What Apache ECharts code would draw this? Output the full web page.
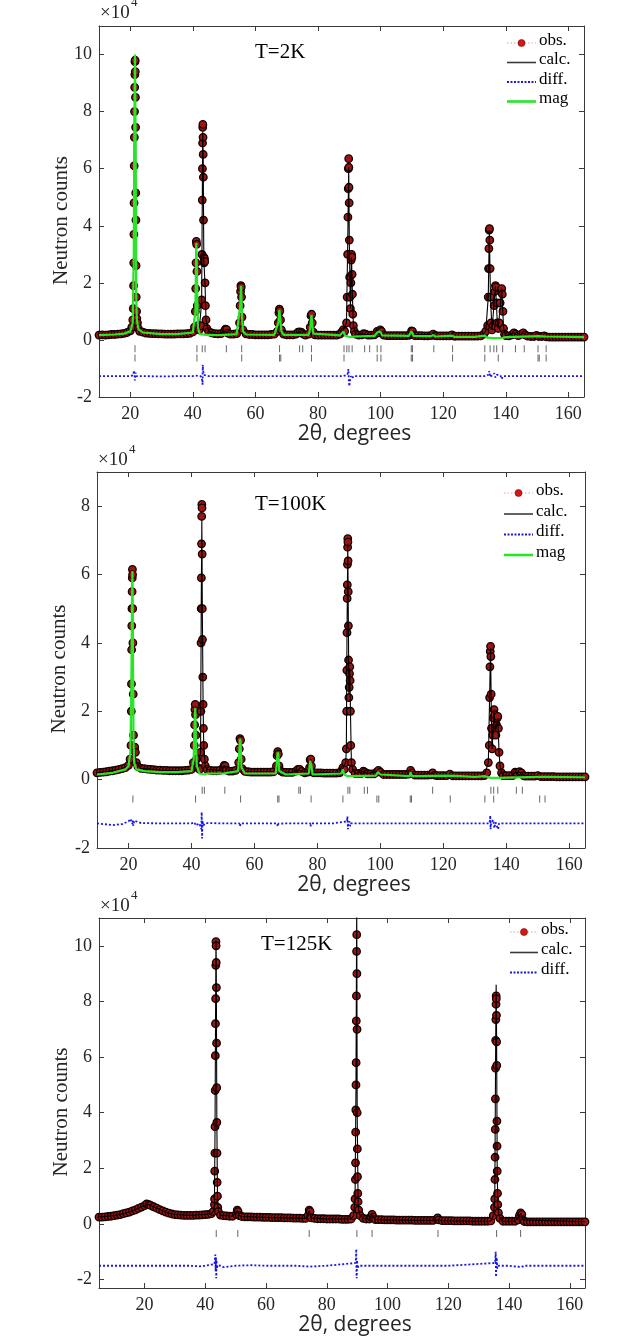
<!DOCTYPE html>
<html><head><meta charset="utf-8">
<script src="https://cdn.jsdelivr.net/npm/echarts@6/dist/echarts.min.js"></script>
<style>html,body{margin:0;padding:0;background:#fff}#c{width:640px;height:1337px}</style>
</head><body><div id="c"></div>
<script>
// ---------------- Panel labels / ticks ----------------
const panelTitles = ['T=2K', 'T=100K', 'T=125K'];
const xTickVals = [20, 40, 60, 80, 100, 120, 140, 160];
const yTickVals1 = [-2, 0, 2, 4, 6, 8, 10];
const yTickVals2 = [-2, 0, 2, 4, 6, 8];
const yTickVals3 = [-2, 0, 2, 4, 6, 8, 10];
const legendNames = ['obs.', 'calc.', 'diff.', 'mag'];

// ---------------- Panel 1 : T=2K (x10^4 counts) ----------------
const p1Obs = [[10,0.17],[11,0.18],[12,0.17],[13,0.18],[14,0.19],[15,0.19],[16,0.2],[17,0.21],[18,0.23],[19,0.26],[20,0.32],[20.5,0.45],[20.8,0.7],[20.95,1.1],[21.05,1.9],[21.1,2.7],[21.15,3.7],[21.2,4.8],[21.25,6.1],[21.3,7.1],[21.35,8.0],[21.4,8.85],[21.45,9.3],[21.5,9.75],[21.55,9.8],[21.6,9.4],[21.65,8.5],[21.7,7.45],[21.75,5.15],[21.8,4.2],[21.85,2.6],[21.9,1.5],[22.0,1.0],[22.1,0.75],[22.3,0.6],[22.6,0.4],[23,0.3],
[24,0.27],[25,0.24],[26,0.23],[27,0.22],[28,0.22],[29,0.21],[30,0.21],[31,0.2],[32,0.2],[33,0.2],[34,0.2],[35,0.21],[36,0.21],[37,0.21],[38,0.22],[39,0.23],[40,0.28],[40.5,0.45],
[40.8,1.0],[40.9,1.8],[41.0,2.7],[41.1,3.45],[41.2,3.35],[41.3,2.4],[41.4,1.2],[41.6,0.5],[42.0,0.35],[42.5,0.5],
[42.8,1.4],[42.9,3.0],[43.0,4.9],[43.05,6.0],[43.1,6.9],[43.15,7.45],[43.2,7.55],[43.25,7.1],[43.3,6.5],[43.35,5.7],[43.4,4.2],[43.5,2.9],[43.6,2.7],[43.7,2.85],[43.8,2.75],[43.9,2.0],[44.0,1.2],[44.2,0.7],[44.5,0.4],[45,0.3],
[46,0.25],[47,0.22],[48,0.21],[49,0.22],[50,0.3],[50.4,0.38],[50.8,0.36],[51.2,0.24],[52,0.2],[53,0.2],[54,0.22],[54.9,0.6],[55.1,1.2],[55.25,1.7],[55.35,1.9],[55.45,1.85],[55.55,1.5],[55.7,0.8],[56,0.35],[57,0.21],[58,0.19],[59,0.19],[60,0.18],[61,0.18],[62,0.18],[63,0.18],[64,0.18],[65,0.19],[66,0.2],
[67,0.3],[67.3,0.6],[67.5,0.95],[67.65,1.08],[67.8,1.02],[68.0,0.7],[68.3,0.35],[69,0.2],[70,0.18],[71,0.18],[72,0.18],[73,0.2],[73.6,0.27],[74.2,0.28],[74.8,0.26],[75.3,0.2],[76,0.17],[77,0.2],[77.5,0.45],[77.75,0.85],[77.95,0.9],[78.15,0.6],[78.5,0.27],[79,0.18],[80,0.17],[81,0.17],[82,0.17],[83,0.17],[84,0.17],[85,0.17],[86,0.17],[87,0.2],[87.6,0.28],[88.1,0.36],[88.5,0.3],
[89.1,0.6],[89.3,1.5],[89.45,3.0],[89.55,4.3],[89.65,5.3],[89.7,6.0],[89.8,6.35],[89.85,6.05],[89.9,5.35],[89.95,4.8],[90.0,3.5],[90.1,2.2],[90.2,1.5],[90.35,1.1],[90.5,2.0],[90.6,2.8],[90.7,3.0],[90.8,2.9],[90.9,2.3],[91.0,1.6],[91.1,0.9],[91.3,0.5],[91.6,0.3],[92,0.2],[93,0.17],[94,0.18],[94.6,0.22],[95.2,0.2],[96,0.17],[97,0.17],[98,0.18],[98.9,0.3],[99.3,0.25],[99.9,0.35],[100.3,0.3],[101,0.17],
[102,0.15],[103,0.15],[104,0.15],[105,0.15],[106,0.15],[107,0.15],[108,0.15],[109,0.16],[109.5,0.2],[109.9,0.32],[110.2,0.3],[110.6,0.18],[111,0.15],[112,0.15],[113,0.15],[114,0.14],[115,0.14],[116,0.15],[116.8,0.2],[117.5,0.15],[118,0.14],[119,0.14],[120,0.14],[121,0.14],[122,0.14],[122.8,0.18],[123.5,0.13],[124,0.13],[125,0.13],[126,0.13],[127,0.13],[128,0.13],[129,0.13],[130,0.13],[131,0.13],[132,0.14],[133,0.2],[133.6,0.3],
[134.2,0.5],[134.4,1.5],[134.5,2.5],[134.6,3.2],[134.7,3.85],[134.8,3.9],[134.9,3.5],[135.0,2.5],[135.1,1.5],[135.3,0.6],[135.6,0.35],[136.0,0.5],[136.3,1.2],[136.5,1.7],[136.7,1.9],[136.9,1.85],[137.1,1.3],[137.3,0.6],[137.6,0.4],[137.9,0.6],[138.2,1.3],[138.5,1.75],[138.7,1.8],[138.9,1.6],[139.1,1.0],[139.3,0.4],[139.6,0.2],[140,0.15],[141,0.14],[142,0.18],[142.6,0.25],[143.2,0.2],[144,0.15],[145,0.2],[145.6,0.25],[146.2,0.18],[147,0.13],[148,0.12],[149,0.12],[149.8,0.16],[150.5,0.12],[151.5,0.12],[152.3,0.14],[153,0.11],
[154,0.1],[155,0.1],[156,0.1],[157,0.1],[158,0.1],[159,0.1],[160,0.1],[161,0.1],[162,0.1],[163,0.1],[164,0.1],[165,0.1]];
const p1Calc = [[10,0.17],[15,0.19],[18,0.23],[20,0.32],[20.8,0.7],[21.1,3.0],[21.3,7.5],[21.5,9.9],[21.7,7.0],[21.9,1.6],[22.1,0.75],[22.6,0.4],[24,0.27],[30,0.21],[35,0.21],[40,0.28],[40.8,1.0],[41.0,2.7],[41.1,3.4],[41.3,2.3],[41.6,0.5],[42.0,0.35],[42.8,1.3],[43.0,4.8],[43.15,7.3],[43.3,6.4],[43.5,2.8],[43.7,2.8],[43.9,1.9],[44.2,0.7],[45,0.3],[48,0.21],[50,0.3],[50.6,0.37],[51.2,0.24],[54,0.22],[55.1,1.2],[55.4,1.85],[55.7,0.8],[56,0.35],[57,0.21],[66,0.2],[67.3,0.6],[67.65,1.05],[68.0,0.7],[68.3,0.35],[69,0.2],[73,0.2],[74,0.27],[75.3,0.2],[77,0.2],[77.5,0.45],[77.9,0.88],[78.2,0.55],[78.5,0.27],[79,0.18],[87,0.2],[88.1,0.34],[88.5,0.3],[89.1,0.6],[89.5,3.5],[89.8,6.05],[90.0,3.4],[90.35,1.1],[90.7,2.9],[91.0,1.5],[91.3,0.5],[92,0.2],[94.6,0.21],[96,0.17],[98.9,0.28],[99.9,0.33],[101,0.17],[109,0.16],[109.9,0.3],[110.6,0.18],[116.8,0.19],[117.5,0.15],[122.8,0.17],[123.5,0.13],[132,0.14],[133.6,0.3],[134.4,1.5],[134.75,3.85],[135.1,1.5],[135.6,0.35],[136.7,1.9],[137.3,0.6],[137.6,0.4],[138.7,1.8],[139.3,0.4],[140,0.15],[142.6,0.24],[144,0.15],[145.6,0.24],[147,0.13],[149.8,0.15],[151.5,0.12],[152.3,0.13],[154,0.1],[165,0.1]];
const p1Mag = [[10,0.17],[15,0.19],[18,0.22],[20,0.3],[20.8,0.6],[21.1,2.8],[21.3,7.5],[21.5,10.0],[21.7,7.0],[21.9,1.5],[22.1,0.7],[22.6,0.38],[24,0.26],[30,0.2],[35,0.2],[40,0.26],[40.8,1.0],[41.0,2.7],[41.1,3.4],[41.3,2.3],[41.6,0.45],[42.2,0.2],[45,0.17],[50,0.18],[54,0.2],[55.1,1.15],[55.4,1.9],[55.7,0.8],[56,0.3],[57,0.19],[66,0.18],[67.3,0.6],[67.65,1.05],[68.0,0.65],[68.3,0.3],[69,0.18],[77,0.18],[77.5,0.4],[77.9,0.88],[78.2,0.5],[78.5,0.22],[79,0.16],[87,0.16],[88.1,0.3],[88.6,0.15],[90,0.1],[92,0.12],[98,0.14],[98.9,0.26],[99.4,0.2],[99.9,0.3],[100.5,0.16],[109,0.14],[109.9,0.3],[110.6,0.14],[116,0.13],[116.8,0.17],[117.5,0.12],[122.8,0.15],[123.5,0.11],[130,0.11],[133.3,0.15],[134,0.08],[136,0.06],[139,0.07],[140,0.1],[150.4,0.13],[151,0.1],[152.9,0.12],[153.5,0.1],[165,0.1]];
const p1Diff = [[10,-1.27],[15,-1.27],[20,-1.27],[20.9,-1.24],[21.2,-1.07],[21.35,-1.19],[21.45,-1.42],[21.55,-1.32],[21.7,-1.15],[21.9,-1.27],[25,-1.27],[30,-1.28],[35,-1.27],[40,-1.27],[40.9,-1.25],[41.05,-1.32],[41.2,-1.24],[41.5,-1.29],[42.5,-1.27],[42.9,-1.3],[43.0,-1.42],[43.1,-1.57],[43.15,-0.87],[43.2,-0.82],[43.3,-1.07],[43.5,-1.22],[43.8,-1.17],[44.2,-1.25],[45,-1.27],[50,-1.27],[55.2,-1.27],[55.4,-1.21],[55.6,-1.33],[55.8,-1.27],[60,-1.27],[67.6,-1.27],[67.8,-1.31],[68,-1.27],[77.8,-1.27],[77.95,-1.23],[78.1,-1.29],[80,-1.27],[88,-1.27],[89.4,-1.22],[89.6,-1.17],[89.7,-1.02],[89.8,-1.32],[89.9,-1.52],[90.0,-1.62],[90.2,-1.42],[90.5,-1.27],[90.7,-1.22],[90.9,-1.35],[91.3,-1.27],[100,-1.27],[110,-1.27],[120,-1.27],[133,-1.27],[134.5,-1.22],[134.7,-1.09],[134.85,-1.17],[135.0,-1.3],[135.3,-1.25],[136.3,-1.17],[136.7,-1.32],[137.2,-1.22],[137.5,-1.27],[138.3,-1.25],[138.7,-1.37],[139.1,-1.27],[140,-1.27],[150,-1.27],[165,-1.27]];
const p1BraggA = [21.5,41.3,43.0,43.9,50.7,55.6,67.7,74.1,75.1,77.9,88.3,89.2,89.9,90.9,94.9,96.5,98.9,100.1,109.8,110.2,117.0,123.0,133.3,135.0,136.2,137.1,139.0,143.1,145.9,150.3,152.9];
const p1BraggB = [21.5,41.3,55.6,67.7,68.1,77.9,88.3,98.9,100.1,109.8,110.2,123.0,133.3,137.6,150.3,150.7,152.9];

// ---------------- Panel 2 : T=100K ----------------
const p2Obs = [[10,0.2],[11,0.21],[12,0.22],[13,0.23],[14,0.25],[15,0.26],[16,0.28],[17,0.3],[18,0.32],[19,0.35],[20,0.42],[20.5,0.6],[20.8,1.0],[20.9,2.0],[20.95,2.8],[21.0,3.8],[21.05,4.5],[21.1,5.0],[21.15,5.5],[21.2,5.9],[21.25,6.15],[21.3,6.0],[21.35,5.0],[21.4,4.0],[21.5,2.5],[21.6,1.3],[21.8,0.9],[22.0,0.95],[22.2,0.8],[22.5,0.5],[23,0.38],[24,0.33],[25,0.32],[26,0.31],[27,0.3],[28,0.29],[29,0.28],[30,0.28],[31,0.27],[32,0.27],[33,0.26],[34,0.26],[35,0.26],[36,0.26],[37,0.26],[38,0.27],[39,0.28],[40,0.3],[40.6,0.5],
[40.9,1.0],[41.0,1.6],[41.1,2.05],[41.2,2.2],[41.3,1.9],[41.4,1.3],[41.6,0.6],[42,0.35],[42.6,0.3],[42.9,0.8],[43.0,2.0],[43.05,4.0],[43.1,5.0],[43.15,5.9],[43.2,6.9],[43.25,7.7],[43.3,8.05],[43.35,7.95],[43.4,6.6],[43.45,5.0],[43.5,4.1],[43.6,3.0],[43.7,2.2],[43.8,1.5],[43.9,1.0],[44.1,0.6],[44.4,0.4],[45,0.3],[46,0.27],[47,0.26],[48,0.26],[49,0.27],[50.1,0.35],[50.4,0.42],[50.7,0.4],[51.1,0.28],[52,0.25],[53,0.25],[54,0.27],
[55.0,0.5],[55.2,0.9],[55.4,1.2],[55.6,1.15],[55.8,0.6],[56.1,0.32],[57,0.24],[58,0.23],[59,0.22],[60,0.22],[61,0.22],[62,0.22],[63,0.22],[64,0.22],[65,0.22],[66,0.23],[67.0,0.4],[67.2,0.7],[67.4,0.82],[67.6,0.75],[67.8,0.4],[68.2,0.26],[69,0.22],[70,0.21],[71,0.21],[72,0.21],[73.2,0.25],[73.8,0.3],[74.4,0.3],[75,0.24],[76,0.2],[77,0.22],[77.5,0.35],[77.7,0.58],[77.9,0.6],[78.1,0.4],[78.5,0.22],[79,0.2],[80,0.2],[81,0.2],[82,0.19],[83,0.19],[84,0.19],[85,0.19],[86,0.19],[87,0.2],[87.6,0.25],[88.1,0.35],[88.5,0.3],
[89.0,0.5],[89.2,0.9],[89.3,2.0],[89.35,3.2],[89.4,4.3],[89.45,5.3],[89.5,5.7],[89.55,6.3],[89.6,6.8],[89.65,7.05],[89.7,6.95],[89.75,6.4],[89.8,5.5],[89.85,4.5],[89.9,3.5],[90.0,2.4],[90.1,2.7],[90.2,3.1],[90.3,3.3],[90.4,2.9],[90.5,2.0],[90.6,1.0],[90.8,0.5],[91.2,0.3],[92,0.18],[93,0.18],[94,0.18],[94.6,0.25],[95.1,0.22],[95.8,0.18],[96,0.17],[97,0.17],[98,0.17],[98.8,0.22],[99.4,0.27],[100,0.22],
[101,0.15],[102,0.15],[103,0.15],[104,0.15],[105,0.15],[106,0.15],[107,0.15],[108,0.15],[109,0.16],[109.6,0.27],[110,0.2],[111,0.13],[112,0.13],[113,0.13],[114,0.13],[115,0.13],[116,0.14],[116.6,0.2],[117.3,0.13],[118,0.12],[119,0.12],[120,0.12],[121,0.12],[122.1,0.16],[123,0.11],[124,0.11],[125,0.11],[126,0.11],[127,0.11],[128,0.11],[129,0.11],[130,0.11],[131,0.11],[132,0.11],[133,0.12],[133.8,0.2],[134.3,0.5],
[134.6,1.0],[134.7,2.4],[134.8,3.3],[134.9,3.75],[135.0,3.9],[135.1,3.6],[135.2,2.5],[135.3,1.5],[135.5,0.9],[135.7,1.3],[135.9,1.8],[136.1,2.05],[136.3,1.9],[136.5,1.5],[136.7,1.3],[136.9,1.6],[137.1,1.8],[137.3,1.85],[137.5,1.5],[137.7,0.8],[138.0,0.4],[138.5,0.2],[139,0.12],[140,0.12],[141,0.12],[142,0.12],[142.8,0.22],[143.3,0.2],[144.2,0.23],[144.8,0.2],[145.5,0.12],[146,0.1],[147,0.1],[148,0.1],[149,0.1],[150,0.12],[151,0.09],[152,0.09],[153,0.09],[154,0.09],[155,0.09],[156,0.08],[157,0.08],[158,0.08],[159,0.08],[160,0.08],[161,0.08],[162,0.08],[163,0.08],[164,0.08],[165,0.08]];
const p2Calc = [[10,0.2],[14,0.25],[18,0.32],[20,0.42],[20.5,0.6],[20.8,1.0],[21.0,3.7],[21.25,6.1],[21.4,4.0],[21.6,1.3],[21.8,0.9],[22.0,0.95],[22.5,0.5],[24,0.33],[30,0.28],[35,0.26],[40,0.3],[40.6,0.5],[41.0,1.6],[41.2,2.15],[41.4,1.3],[41.6,0.6],[42,0.35],[42.6,0.3],[42.9,0.8],[43.1,5.0],[43.3,7.6],[43.45,5.0],[43.7,2.2],[43.9,1.0],[44.4,0.4],[45,0.3],[49,0.27],[50.4,0.41],[51.1,0.28],[54,0.27],[55.0,0.5],[55.4,1.2],[55.8,0.6],[56.1,0.32],[57,0.24],[66,0.23],[67.0,0.4],[67.4,0.8],[67.8,0.4],[68.2,0.26],[69,0.22],[72,0.21],[73.8,0.29],[74.4,0.29],[75,0.24],[77,0.22],[77.5,0.35],[77.9,0.6],[78.1,0.4],[78.5,0.22],[79,0.2],[87,0.2],[88.1,0.34],[88.5,0.3],[89.0,0.5],[89.2,0.9],[89.4,4.2],[89.65,6.9],[89.85,4.5],[90.0,2.5],[90.3,3.25],[90.5,2.0],[90.8,0.5],[91.2,0.3],[92,0.18],[94.6,0.24],[95.8,0.18],[98.8,0.22],[99.4,0.26],[100,0.22],[101,0.15],[109,0.16],[109.6,0.26],[110,0.2],[111,0.13],[116.6,0.19],[117.3,0.13],[122.1,0.15],[123,0.11],[133,0.12],[134.3,0.5],[134.7,2.4],[135.0,3.85],[135.3,1.5],[135.5,0.9],[136.1,2.0],[136.6,1.4],[137.3,1.8],[137.7,0.8],[138.0,0.4],[138.5,0.2],[139,0.12],[142,0.12],[142.8,0.21],[143.3,0.2],[144.2,0.22],[145.5,0.12],[146,0.1],[150,0.11],[151,0.09],[165,0.08]];
const p2Mag = [[10,0.15],[15,0.2],[19,0.3],[20,0.4],[20.6,0.8],[20.9,2.5],[21.1,5.0],[21.25,6.1],[21.4,4.0],[21.6,1.2],[21.8,0.5],[22.5,0.3],[25,0.25],[30,0.22],[35,0.22],[40,0.25],[40.7,0.6],[41.0,1.6],[41.2,2.1],[41.4,1.3],[41.7,0.4],[42.5,0.18],[44,0.15],[45,0.18],[50,0.18],[54.8,0.25],[55.2,0.8],[55.4,1.2],[55.6,1.1],[55.9,0.35],[57,0.18],[66.8,0.18],[67.2,0.6],[67.4,0.8],[67.6,0.72],[67.9,0.25],[70,0.15],[77.3,0.18],[77.7,0.55],[77.9,0.6],[78.1,0.4],[78.5,0.15],[87.6,0.18],[88.1,0.3],[88.5,0.15],[89.6,0.1],[91,0.1],[98.6,0.12],[99.2,0.22],[99.6,0.25],[100.1,0.15],[109.3,0.1],[109.6,0.22],[110,0.1],[122,0.12],[130,0.08],[133.2,0.1],[135,0.05],[138,0.05],[150,0.08],[152,0.08],[165,0.07]];
const p2Diff = [[10,-1.28],[12,-1.3],[15,-1.33],[18,-1.3],[20,-1.22],[20.7,-1.15],[20.9,-1.2],[21.05,-1.1],[21.2,-1.3],[21.35,-1.2],[21.5,-1.35],[21.8,-1.2],[22.3,-1.25],[24,-1.27],[30,-1.28],[40,-1.28],[41.0,-1.25],[41.2,-1.22],[41.35,-1.34],[41.6,-1.3],[42.5,-1.28],[43.0,-1.3],[43.15,-1.45],[43.25,-0.95],[43.3,-1.0],[43.35,-1.6],[43.4,-1.72],[43.5,-1.2],[43.7,-1.35],[44.5,-1.27],[50,-1.28],[55.2,-1.28],[55.4,-1.36],[55.6,-1.28],[60,-1.28],[67.2,-1.28],[67.4,-1.37],[67.6,-1.29],[70,-1.28],[77.7,-1.28],[77.85,-1.37],[78.0,-1.28],[85,-1.28],[89.4,-1.22],[89.55,-1.08],[89.6,-1.12],[89.7,-1.45],[89.8,-1.3],[90.2,-1.22],[90.4,-1.36],[90.7,-1.28],[100,-1.28],[120,-1.28],[134.5,-1.28],[134.8,-1.2],[134.9,-1.05],[135.0,-1.45],[135.2,-1.25],[135.9,-1.18],[136.2,-1.42],[136.6,-1.25],[137.1,-1.3],[137.4,-1.45],[137.7,-1.28],[140,-1.28],[165,-1.28]];
const p2BraggA = [43.4,44.1,50.6,74.1,74.6,89.7,90.3,94.9,95.9,116.6,135.1,136.0,137.3,143.2,145.1];
const p2BraggB = [21.4,41.3,55.6,67.4,67.8,78.0,88.1,98.9,99.5,109.5,109.9,122.2,133.2,136.0,150.6,152.3];

// ---------------- Panel 3 : T=125K ----------------
const p3Obs = [[5,0.25],[6,0.25],[7,0.26],[8,0.27],[9,0.28],[10,0.3],[11,0.32],[12,0.34],[13,0.37],[14,0.4],[15,0.43],[16,0.47],[17,0.51],[18,0.56],[19,0.61],[20,0.66],[20.7,0.72],[21.5,0.7],[22,0.67],[23,0.62],[24,0.57],[25,0.52],[26,0.47],[27,0.43],[28,0.39],[29,0.36],[30,0.34],[31,0.33],[32,0.32],[33,0.31],[34,0.31],[35,0.31],[36,0.31],[37,0.32],[38,0.32],[39,0.33],[40,0.34],[41,0.35],[42,0.37],[42.6,0.45],
[43.0,0.7],[43.05,0.9],[43.1,1.9],[43.15,2.55],[43.2,3.5],[43.25,4.8],[43.3,6.05],[43.35,7.2],[43.4,8.1],[43.45,9.3],[43.5,10.15],[43.55,10.0],[43.6,9.4],[43.65,8.5],[43.7,6.5],[43.75,4.9],[43.8,3.65],[43.85,2.55],[43.9,1.5],[44.0,1.0],[44.1,0.6],[44.3,0.45],[45,0.32],[46,0.3],[47,0.29],[48,0.28],[49,0.28],[50.2,0.35],[50.5,0.5],[50.8,0.45],[51.2,0.3],[52,0.27],[53,0.26],[54,0.26],[55,0.26],[56,0.25],[57,0.25],[58,0.25],[59,0.24],[60,0.24],[61,0.24],[62,0.23],[63,0.23],[64,0.23],[65,0.23],[66,0.22],[67,0.22],[68,0.22],[69,0.21],[70,0.21],[71,0.21],[72,0.2],[73,0.2],[73.8,0.3],[74.2,0.5],[74.5,0.45],[74.9,0.22],
[76,0.2],[77,0.19],[78,0.19],[79,0.19],[80,0.18],[81,0.18],[82,0.18],[83,0.18],[84,0.18],[85,0.17],[86,0.17],[87,0.17],[88,0.18],[88.8,0.3],[89.2,0.6],[89.3,0.9],[89.4,1.6],[89.45,2.2],[89.5,3.3],[89.55,4.1],[89.6,5.0],[89.65,5.8],[89.7,7.3],[89.75,8.2],[89.8,9.8],[89.85,10.4],[89.9,9.0],[89.95,7.0],[90.0,4.0],[90.05,2.7],[90.1,1.7],[90.2,1.1],[90.3,0.8],[90.5,0.5],[91,0.3],[92,0.2],[93,0.18],[94,0.18],[94.5,0.25],[94.9,0.35],[95.3,0.25],
[96,0.16],[97,0.16],[98,0.16],[99,0.15],[100,0.15],[101,0.15],[102,0.15],[103,0.14],[104,0.14],[105,0.14],[106,0.14],[107,0.14],[108,0.14],[109,0.13],[110,0.13],[111,0.13],[112,0.13],[113,0.13],[114,0.13],[115,0.13],[116.2,0.18],[116.5,0.22],[116.9,0.15],[118,0.12],[119,0.12],[120,0.12],[121,0.12],[122,0.11],[123,0.11],[124,0.11],[125,0.11],[126,0.11],[127,0.11],[128,0.1],[129,0.1],[130,0.1],[131,0.1],[132,0.1],[133,0.1],[134,0.11],[134.8,0.3],
[135.2,0.6],[135.3,0.9],[135.35,1.6],[135.4,2.4],[135.45,3.4],[135.5,4.5],[135.55,5.6],[135.6,6.6],[135.65,7.35],[135.7,7.9],[135.75,8.2],[135.8,8.1],[135.85,7.5],[135.9,6.55],[135.95,5.7],[136.0,3.7],[136.05,2.8],[136.1,1.9],[136.2,1.1],[136.3,0.7],[136.5,0.4],[137,0.2],[138,0.1],[139,0.1],[140,0.1],[141,0.1],[142,0.1],[143,0.15],[143.4,0.3],[143.8,0.4],[144.2,0.35],[144.6,0.15],[145,0.09],
[146,0.08],[147,0.08],[148,0.08],[149,0.08],[150,0.08],[151,0.08],[152,0.08],[153,0.08],[154,0.08],[155,0.08],[156,0.08],[157,0.08],[158,0.08],[159,0.08],[160,0.08],[161,0.08],[162,0.08],[163,0.08],[164,0.08],[165,0.08]];
const p3Calc = [[5,0.25],[10,0.3],[15,0.43],[20,0.66],[20.7,0.72],[22,0.67],[25,0.52],[28,0.39],[30,0.34],[35,0.31],[40,0.34],[42,0.37],[42.6,0.45],[43.0,0.7],[43.2,3.4],[43.5,10.2],[43.6,9.5],[43.8,3.6],[44.0,1.0],[44.3,0.45],[45,0.32],[49,0.28],[50.5,0.48],[51.2,0.3],[52,0.27],[60,0.24],[70,0.21],[73,0.2],[74.2,0.48],[74.9,0.22],[80,0.18],[88,0.18],[88.8,0.3],[89.3,0.9],[89.6,5.0],[89.85,11.6],[90.0,4.0],[90.3,0.8],[90.5,0.5],[91,0.3],[92,0.2],[94,0.18],[94.9,0.33],[95.3,0.25],[96,0.16],[100,0.15],[110,0.13],[116,0.14],[116.5,0.21],[116.9,0.15],[118,0.12],[130,0.1],[134,0.11],[134.8,0.3],[135.3,0.9],[135.6,6.6],[135.75,8.6],[135.9,6.6],[136.1,1.9],[136.3,0.7],[136.5,0.4],[137,0.2],[138,0.1],[142,0.1],[143.4,0.3],[143.8,0.39],[144.2,0.35],[144.6,0.15],[145,0.09],[165,0.08]];
const p3Diff = [[5,-1.5],[20,-1.5],[30,-1.5],[35,-1.5],[38,-1.52],[40,-1.5],[42,-1.46],[43.0,-1.45],[43.3,-1.1],[43.4,-1.7],[43.5,-1.2],[43.6,-1.95],[43.7,-1.3],[43.8,-1.6],[44,-1.48],[45,-1.5],[46,-1.55],[48,-1.53],[50,-1.5],[55,-1.48],[60,-1.5],[70,-1.5],[74.2,-1.53],[80,-1.5],[89.5,-1.4],[89.7,-0.9],[89.75,-1.8],[89.85,-1.95],[89.95,-1.3],[90.1,-1.6],[90.4,-1.5],[100,-1.5],[120,-1.5],[135.4,-1.4],[135.6,-1.0],[135.7,-1.9],[135.8,-1.95],[135.9,-1.2],[136.1,-1.6],[136.5,-1.5],[140,-1.5],[144,-1.55],[145,-1.5],[165,-1.5]];
const p3BraggA = [43.6,50.7,74.2,89.9,94.9,116.6,135.9,143.8];

// ---------------- Layout / styles ----------------
const SERIF = 'Liberation Serif';
const SANS = 'Open Sans';
const grids = [
  {left: 99, top: 26, width: 485, height: 371},
  {left: 97, top: 472, width: 488, height: 376},
  {left: 99, top: 918, width: 486, height: 372}
];
const xRanges = [[10, 165], [10, 165], [5, 165]];
const yRanges = [[-2, 11], [-2, 9], [-2.3, 11]];
const yTicks = [yTickVals1, yTickVals2, yTickVals3];
const panels = [
  {obs: p1Obs, calc: p1Calc, diff: p1Diff, mag: p1Mag, bragg: [p1BraggA, p1BraggB], rowY: [-0.31, -0.63]},
  {obs: p2Obs, calc: p2Calc, diff: p2Diff, mag: p2Mag, bragg: [p2BraggA, p2BraggB], rowY: [-0.31, -0.57]},
  {obs: p3Obs, calc: p3Calc, diff: p3Diff, mag: null, bragg: [p3BraggA], rowY: [-0.34]}
];
const AX = '#3a3a3a';
const C_OBS = '#9c1414', C_OBS_EDGE = '#120000', C_CALC = '#000000', C_DIFF = '#1515ee', C_MAG = '#26e626';

const xAxes = [], yAxes = [], series = [];
grids.forEach((g, i) => {
  const tickStyle = {show: true, inside: true, length: 5, lineStyle: {color: AX, width: 1}};
  xAxes.push({
    type: 'value', gridIndex: i, min: xRanges[i][0], max: xRanges[i][1], position: 'bottom',
    axisLine: {show: true, onZero: false, lineStyle: {color: AX, width: 1}},
    axisTick: Object.assign({customValues: xTickVals}, tickStyle),
    axisLabel: {customValues: xTickVals, fontFamily: SERIF, fontSize: 18, color: '#262626', margin: 8},
    splitLine: {show: false},
    name: '2θ, degrees', nameLocation: 'middle', nameGap: 27,
    nameTextStyle: {fontFamily: SANS, fontSize: 21, color: '#262626', padding: [0, 0, 0, 26]}
  });
  xAxes.push({
    type: 'value', gridIndex: i, min: xRanges[i][0], max: xRanges[i][1], position: 'top',
    axisLine: {show: true, onZero: false, lineStyle: {color: AX, width: 1}},
    axisTick: Object.assign({customValues: xTickVals}, tickStyle),
    axisLabel: {show: false}, splitLine: {show: false}
  });
  yAxes.push({
    type: 'value', gridIndex: i, min: yRanges[i][0], max: yRanges[i][1], position: 'left',
    axisLine: {show: true, onZero: false, lineStyle: {color: AX, width: 1}},
    axisTick: Object.assign({customValues: yTicks[i]}, tickStyle),
    axisLabel: {customValues: yTicks[i], fontFamily: SERIF, fontSize: 18, color: '#262626', margin: 7},
    splitLine: {show: false},
    name: 'Neutron counts', nameLocation: 'middle', nameGap: 27, nameMoveOverlap: false,
    nameTextStyle: {fontFamily: SERIF, fontSize: 21, color: '#262626', padding: [0, 18, 0, 0]}
  });
  yAxes.push({
    type: 'value', gridIndex: i, min: yRanges[i][0], max: yRanges[i][1], position: 'right',
    axisLine: {show: true, onZero: false, lineStyle: {color: AX, width: 1}},
    axisTick: Object.assign({customValues: yTicks[i]}, tickStyle),
    axisLabel: {show: false}, splitLine: {show: false}
  });

  const p = panels[i];
  const xi = 2 * i, yi = 2 * i;
  p.bragg.forEach((row, r) => {
    series.push({
      type: 'scatter', xAxisIndex: xi, yAxisIndex: yi, silent: true, z: 1,
      symbol: 'rect', symbolSize: [1, 7],
      itemStyle: {color: '#404040'},
      data: row.map(v => [v, p.rowY[r]])
    });
  });
  series.push({
    name: legendNames[0], type: 'scatter', xAxisIndex: xi, yAxisIndex: yi, z: 2,
    symbol: 'circle', symbolSize: 7.5,
    itemStyle: {color: C_OBS, borderColor: C_OBS_EDGE, borderWidth: 1.3, opacity: 1},
    data: p.obs
  });
  series.push({
    name: legendNames[1], type: 'line', xAxisIndex: xi, yAxisIndex: yi, z: 3,
    showSymbol: false, clip: true, lineStyle: {color: C_CALC, width: 1.1}, data: p.calc
  });
  series.push({
    name: legendNames[2], type: 'line', xAxisIndex: xi, yAxisIndex: yi, z: 3,
    showSymbol: false, clip: true, lineStyle: {color: C_DIFF, width: 1.8, type: [2, 2]}, data: p.diff
  });
  if (p.mag) {
    series.push({
      name: legendNames[3], type: 'line', xAxisIndex: xi, yAxisIndex: yi, z: 4,
      showSymbol: false, clip: true, lineStyle: {color: C_MAG, width: 2.2}, data: p.mag
    });
  }
});

// ---------------- Annotations (text / legend boxes) ----------------
const graphic = [];
const expoPos = [[100, 14], [98, 461], [100, 907]];
expoPos.forEach(([x, y]) => {
  graphic.push({type: 'text', left: x, top: y - 10, style: {text: '×10', font: '19px "Liberation Serif"', fill: '#262626'}});
  graphic.push({type: 'text', left: x + 31, top: y - 18, style: {text: '4', font: '13px "Liberation Serif"', fill: '#262626'}});
});
const titlePos = [[255, 54], [255, 506], [261, 946]];
titlePos.forEach(([x, y], i) => {
  graphic.push({type: 'text', left: x, top: y - 12, style: {text: panelTitles[i], font: '21px "Liberation Serif"', fill: '#000'}});
});
const legendSpec = [
  {x0: 507, x1: 536, tx: 539, ys: [43, 62.5, 82, 101.5]},
  {x0: 504, x1: 533, tx: 536, ys: [493, 514, 534.5, 555]},
  {x0: 510, x1: 538, tx: 541, ys: [932, 952.5, 972.5]}
];
legendSpec.forEach(L => {
  L.ys.forEach((y, k) => {
    let ls;
    if (k === 0) ls = {stroke: '#e89a9a', lineWidth: 1.2, lineDash: [1.5, 2]};
    else if (k === 1) ls = {stroke: '#3a3a3a', lineWidth: 1.6};
    else if (k === 2) ls = {stroke: '#1a1acc', lineWidth: 2, lineDash: [2, 1.5]};
    else ls = {stroke: C_MAG, lineWidth: 2.6};
    graphic.push({type: 'line', shape: {x1: L.x0, y1: y, x2: L.x1, y2: y}, style: ls, silent: true});
    if (k === 0) graphic.push({type: 'circle', shape: {cx: (L.x0 + L.x1) / 2, cy: y, r: 3.5}, style: {fill: '#d01818', stroke: '#8a0000', lineWidth: 0.6}});
    graphic.push({type: 'text', left: L.tx, top: y - 11, style: {text: legendNames[k], font: '17px "Liberation Serif"', fill: '#000'}});
  });
});

const chart = echarts.init(document.getElementById('c'), null, {renderer: 'canvas'});
chart.setOption({
  animation: false,
  backgroundColor: '#ffffff',
  grid: grids,
  xAxis: xAxes,
  yAxis: yAxes,
  series: series,
  graphic: graphic
});
</script></body></html>
